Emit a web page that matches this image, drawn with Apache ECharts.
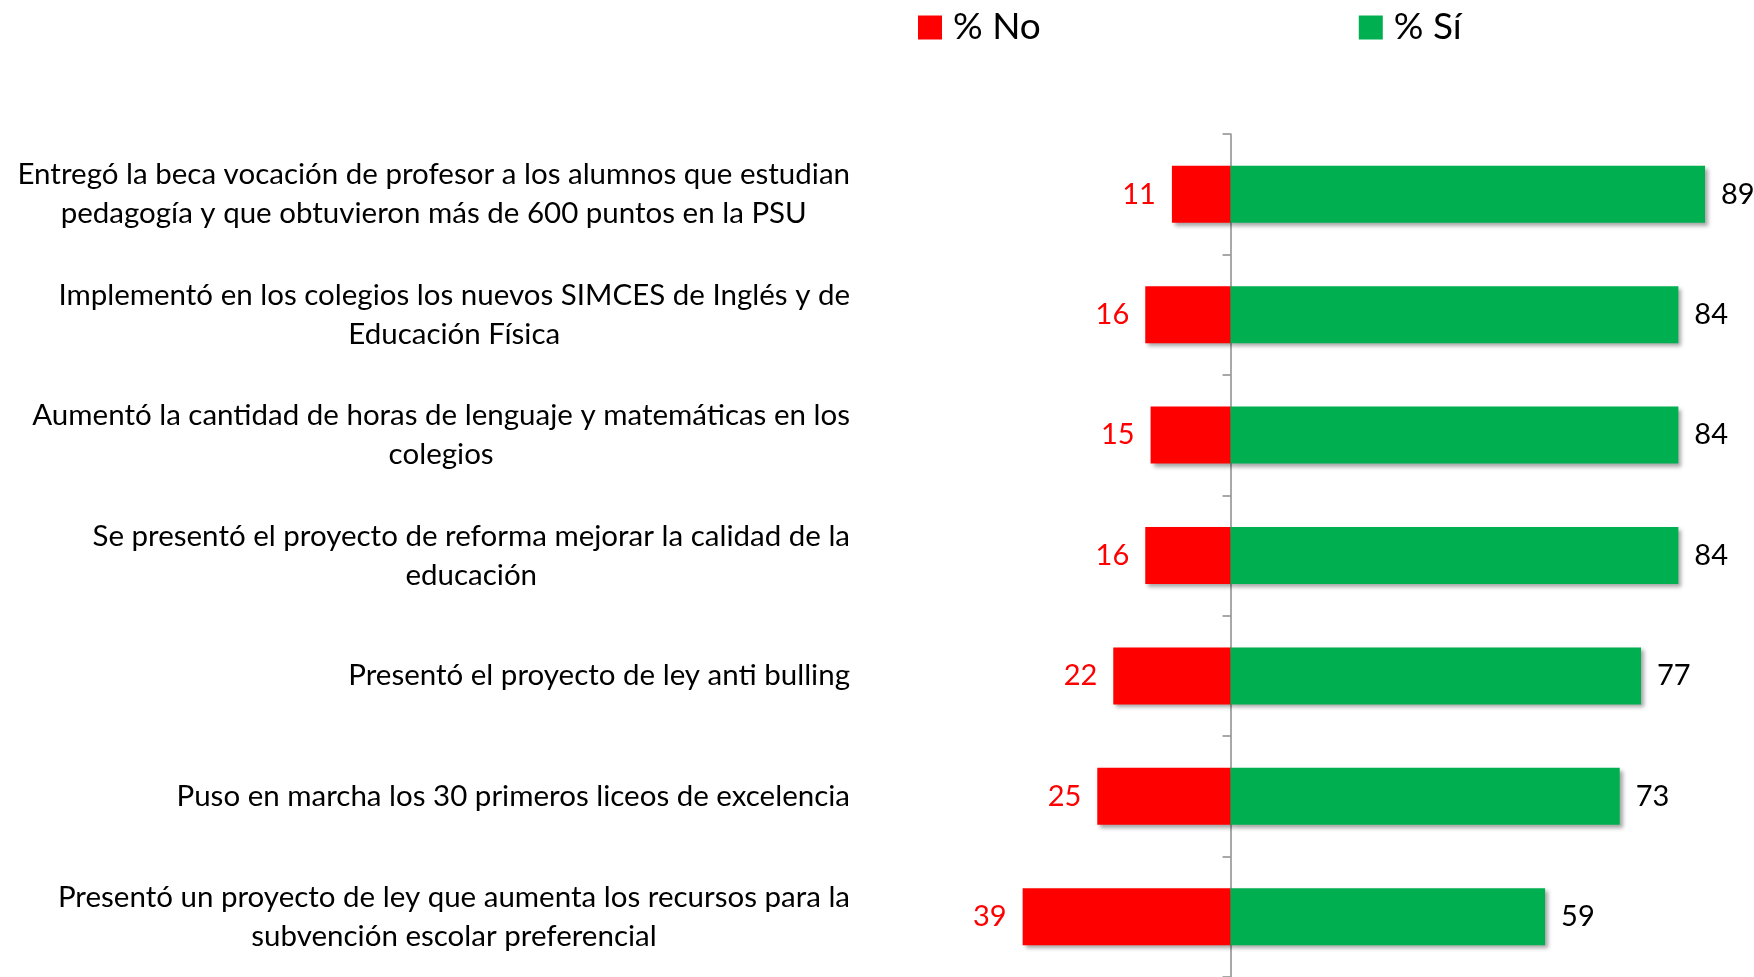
<!DOCTYPE html>
<html>
<head>
<meta charset="utf-8">
<script src="https://cdn.jsdelivr.net/npm/echarts@6/dist/echarts.min.js"></script>
<style>
    html, body { margin: 0; padding: 0; background: #fff; }
    #chart { width: 1754px; height: 977px; }
</style>
</head>
<body>
<div id="chart"></div>
<script>
    const categories = [
        'Entregó la beca vocación de profesor a los alumnos que estudian\npedagogía y que obtuvieron más de 600 puntos en la PSU',
        'Implementó en los colegios los nuevos SIMCES de Inglés y de\nEducación Física',
        'Aumentó la cantidad de horas de lenguaje y matemáticas en los\ncolegios',
        'Se presentó el proyecto de reforma mejorar la calidad de la\neducación',
        'Presentó el proyecto de ley anti bulling',
        'Puso en marcha los 30 primeros liceos de excelencia',
        'Presentó un proyecto de ley que aumenta los recursos para la\nsubvención escolar preferencial'
    ];
    const noValues = [11, 16, 15, 16, 22, 25, 39];
    const siValues = [89, 84, 84, 84, 77, 73, 59];

    const font = 'Lato, "Open Sans", sans-serif';
    const barShadow = {
        shadowBlur: 4,
        shadowOffsetX: 3,
        shadowOffsetY: 3,
        shadowColor: 'rgba(0,0,0,0.35)'
    };

    const chart = echarts.init(document.getElementById('chart'));
    chart.setOption({
        animation: false,
        textStyle: { fontFamily: font },
        legend: {
            data: ['% No', '% Sí'],
            left: 918,
            top: 9,
            padding: 0,
            itemWidth: 24,
            itemHeight: 24,
            itemGap: 318,
            icon: 'rect',
            textStyle: { fontSize: 37, color: '#000', fontFamily: font, padding: [0, 0, 0, 6] }
        },
        grid: {
            left: 964,
            width: 773,
            top: 134,
            bottom: 0,
            containLabel: false,
            outerBoundsMode: 'none'
        },
        xAxis: {
            type: 'value',
            min: -50,
            max: 95,
            show: false
        },
        yAxis: {
            type: 'category',
            inverse: true,
            data: categories,
            axisLine: { show: true, onZero: true, lineStyle: { color: '#8c8c8c', width: 1.5 } },
            axisTick: { show: true, length: 8, lineStyle: { color: '#8c8c8c', width: 1.5 } },
            axisLabel: {
                // labels are placed from the grid edge, not the zero line
                margin: 114,
                align: 'right',
                formatter: (val) => val.split('\n').map(s => '{c|' + s + '}').join('\n'),
                rich: {
                    c: { align: 'center', fontSize: 29.5, lineHeight: 39, color: '#000', fontFamily: font }
                }
            }
        },
        series: [
            {
                name: '% No',
                type: 'bar',
                stack: 'total',
                barWidth: 57,
                data: noValues.map(v => -v),
                itemStyle: Object.assign({ color: '#ff0000' }, barShadow),
                label: {
                    show: true,
                    position: 'left',
                    distance: 16,
                    fontSize: 29,
                    color: '#ff0000',
                    fontFamily: font,
                    formatter: (p) => Math.abs(p.value)
                }
            },
            {
                name: '% Sí',
                type: 'bar',
                stack: 'total',
                barWidth: 57,
                data: siValues,
                itemStyle: Object.assign({ color: '#00b050' }, barShadow),
                label: {
                    show: true,
                    position: 'right',
                    distance: 16,
                    fontSize: 29,
                    color: '#000',
                    fontFamily: font
                }
            }
        ]
    });
</script>
</body>
</html>
